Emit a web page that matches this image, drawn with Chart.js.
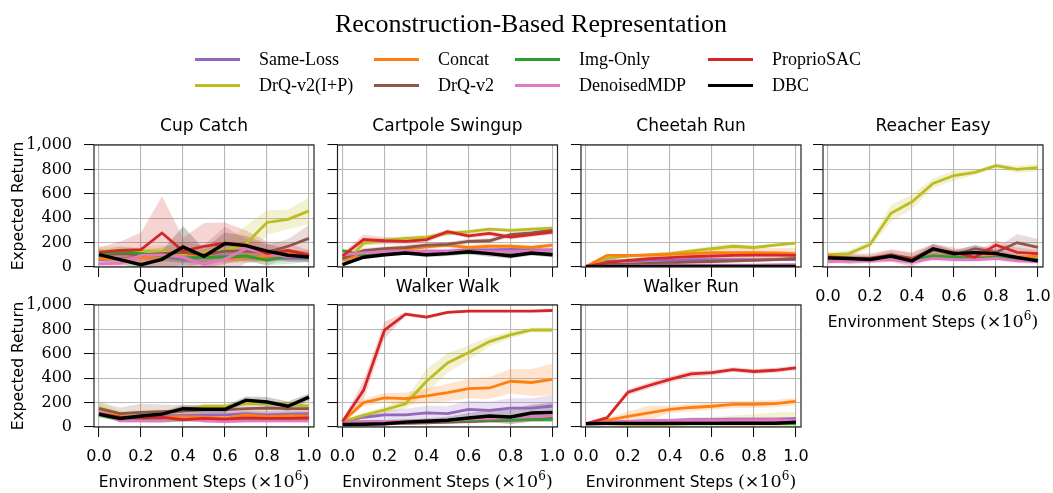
<!DOCTYPE html>
<html>
<head>
<meta charset="utf-8">
<script src="https://cdn.jsdelivr.net/npm/chart.js@4/dist/chart.umd.min.js"></script>
<style>
  html, body { margin: 0; padding: 0; background: #fff; }
  #wrap { position: relative; width: 1053px; height: 493px; overflow: hidden; background: #fff; }
  #wrap canvas { position: absolute; left: 0; top: 0; }
  .txt { position: absolute; white-space: nowrap; line-height: 1; color: #000; }
  .c { transform: translate(-50%, -50%); }
  .l { transform: translate(0, -50%); }
  .serif { font-family: "Liberation Serif", "Times New Roman", serif; }
  .sans { font-family: "DejaVu Sans", sans-serif; }
  .math { font-family: "DejaVu Serif", serif; font-size: 17.5px; }
  .math sup { font-size: 12px; vertical-align: 7px; line-height: 0; }
  .legline { position: absolute; width: 45px; height: 3px; }
</style>
</head>
<body>
<div id="wrap"></div>
<script>
// ---------------- data ----------------
const steps = [0, 0.1, 0.2, 0.3, 0.4, 0.5, 0.6, 0.7, 0.8, 0.9, 1.0];
const xTickValues = [0, 0.2, 0.4, 0.6, 0.8, 1.0];
const yTickValues = [0, 200, 400, 600, 800, 1000];
const seriesNames = ['Same-Loss', 'Concat', 'Img-Only', 'ProprioSAC', 'DrQ-v2(I+P)', 'DrQ-v2', 'DenoisedMDP', 'DBC'];
const seriesColors = ['#9467bd', '#ff7f0e', '#2ca02c', '#d62728', '#bcbd22', '#8c564b', '#e377c2', '#000000'];
const panelTitles = ['Cup Catch', 'Cartpole Swingup', 'Cheetah Run', 'Reacher Easy', 'Quadruped Walk', 'Walker Walk', 'Walker Run'];

// rows follow seriesNames order
const cupCatch = [
  [60, 70, 80, 90, 60, 80, 90, 70, 80, 70, 70],
  [70, 60, 75, 85, 85, 95, 70, 75, 90, 110, 95],
  [100, 130, 110, 90, 75, 80, 80, 90, 55, 85, 80],
  [120, 137, 142, 279, 130, 170, 195, 180, 110, 135, 100],
  [130, 125, 123, 130, 100, 115, 135, 190, 365, 390, 460],
  [100, 110, 100, 110, 120, 100, 130, 130, 120, 170, 235],
  [25, 30, 95, 100, 80, 20, 65, 150, 110, 85, 90],
  [101, 60, 19, 63, 164, 88, 192, 175, 130, 96, 82]
];
const cupCatchStd = [
  [30, 30, 30, 40, 30, 30, 40, 30, 30, 30, 30],
  [40, 40, 50, 50, 40, 40, 40, 40, 40, 40, 40],
  [30, 40, 40, 40, 40, 40, 40, 40, 40, 60, 40],
  [40, 70, 140, 300, 110, 190, 170, 120, 100, 60, 40],
  [40, 40, 40, 50, 50, 40, 60, 150, 100, 80, 110],
  [40, 40, 40, 50, 80, 80, 200, 100, 60, 60, 110],
  [30, 30, 40, 40, 40, 30, 40, 60, 40, 40, 40],
  [50, 40, 30, 70, 170, 60, 90, 80, 60, 50, 40]
];
const cartpole = [
  [60, 100, 110, 125, 130, 130, 140, 140, 145, 140, 140],
  [60, 105, 125, 145, 165, 180, 160, 170, 170, 160, 180],
  [135, 95, 110, 125, 110, 115, 120, 115, 110, 115, 105],
  [90, 225, 215, 210, 225, 290, 255, 275, 245, 265, 285],
  [10, 195, 220, 235, 245, 275, 290, 310, 300, 310, 318],
  [70, 135, 150, 160, 180, 185, 210, 215, 265, 280, 300],
  [100, 115, 125, 130, 125, 125, 130, 125, 125, 130, 135],
  [20, 80, 100, 115, 100, 110, 125, 110, 90, 115, 100]
];
const cartpoleStd = [
  [20, 20, 20, 20, 20, 20, 20, 20, 20, 20, 20],
  [20, 20, 20, 20, 20, 20, 20, 20, 20, 20, 20],
  [15, 20, 20, 20, 20, 20, 20, 20, 20, 20, 20],
  [30, 40, 30, 25, 25, 20, 20, 20, 20, 20, 20],
  [10, 30, 20, 20, 20, 20, 15, 15, 15, 15, 15],
  [20, 20, 20, 20, 20, 20, 20, 20, 20, 20, 20],
  [15, 15, 15, 15, 15, 15, 15, 15, 15, 15, 15],
  [10, 15, 15, 15, 20, 20, 20, 25, 20, 20, 20]
];
const cheetah = [
  [5, 50, 50, 55, 55, 60, 60, 60, 60, 60, 60],
  [5, 95, 95, 98, 103, 110, 118, 118, 118, 115, 110],
  [5, 10, 10, 12, 12, 13, 13, 14, 14, 15, 15],
  [5, 35, 55, 68, 77, 85, 90, 95, 97, 97, 95],
  [5, 70, 90, 100, 110, 130, 150, 170, 160, 180, 195],
  [5, 20, 25, 30, 35, 40, 45, 50, 55, 60, 70],
  [5, 10, 12, 14, 15, 15, 15, 15, 16, 18, 20],
  [2, 5, 5, 5, 5, 5, 5, 5, 5, 5, 5]
];
const cheetahStd = [
  [3, 10, 10, 10, 10, 10, 10, 10, 10, 10, 10],
  [3, 10, 10, 15, 25, 35, 45, 40, 40, 40, 45],
  [2, 5, 5, 5, 5, 5, 5, 5, 5, 5, 5],
  [3, 10, 15, 20, 25, 30, 30, 30, 30, 30, 30],
  [3, 10, 10, 10, 10, 15, 25, 20, 15, 15, 15],
  [3, 10, 10, 10, 10, 10, 15, 15, 15, 15, 15],
  [2, 5, 5, 5, 5, 5, 5, 5, 5, 5, 5],
  [2, 3, 3, 3, 3, 3, 3, 3, 3, 3, 3]
];
const reacher = [
  [70, 65, 70, 80, 60, 90, 80, 70, 80, 70, 60],
  [95, 60, 65, 80, 70, 90, 80, 70, 100, 80, 90],
  [80, 70, 70, 80, 60, 90, 80, 70, 80, 70, 60],
  [80, 70, 70, 95, 60, 140, 120, 80, 180, 120, 110],
  [100, 110, 185, 440, 535, 685, 750, 775, 830, 800, 815],
  [70, 65, 65, 100, 70, 145, 100, 150, 120, 200, 160],
  [45, 50, 55, 60, 40, 70, 60, 60, 70, 50, 45],
  [75, 70, 62, 90, 50, 150, 110, 118, 110, 78, 50]
];
const reacherStd = [
  [20, 20, 20, 20, 20, 20, 20, 20, 20, 20, 20],
  [20, 20, 20, 20, 20, 20, 20, 20, 20, 20, 20],
  [20, 20, 20, 20, 20, 20, 20, 20, 20, 20, 20],
  [30, 40, 40, 50, 60, 50, 40, 30, 40, 40, 30],
  [20, 30, 30, 70, 60, 40, 40, 20, 20, 30, 30],
  [30, 40, 30, 40, 40, 40, 30, 30, 30, 70, 70],
  [20, 20, 20, 20, 20, 20, 20, 20, 20, 20, 20],
  [20, 20, 20, 30, 20, 40, 30, 60, 30, 30, 20]
];
const quadruped = [
  [110, 80, 85, 90, 95, 100, 100, 110, 100, 105, 110],
  [120, 85, 80, 80, 85, 80, 70, 100, 85, 90, 90],
  [100, 60, 60, 55, 60, 60, 60, 60, 60, 60, 60],
  [110, 80, 75, 80, 60, 70, 65, 75, 70, 70, 75],
  [160, 110, 118, 123, 135, 170, 170, 192, 192, 186, 170],
  [150, 110, 120, 125, 130, 140, 140, 150, 155, 150, 150],
  [130, 50, 50, 50, 70, 50, 45, 50, 50, 50, 50],
  [105, 70, 90, 105, 150, 145, 145, 220, 205, 170, 245]
];
const quadrupedStd = [
  [30, 30, 30, 30, 30, 30, 30, 30, 30, 30, 30],
  [40, 30, 30, 30, 30, 30, 40, 40, 40, 40, 40],
  [20, 20, 20, 20, 20, 20, 20, 20, 20, 20, 20],
  [20, 20, 20, 20, 20, 20, 20, 20, 20, 20, 20],
  [60, 20, 20, 20, 20, 20, 20, 20, 20, 20, 20],
  [50, 50, 70, 60, 50, 40, 40, 40, 50, 40, 40],
  [20, 15, 15, 15, 15, 15, 15, 15, 15, 15, 15],
  [20, 20, 20, 20, 30, 30, 30, 30, 40, 40, 30]
];
const walkerWalk = [
  [45, 80, 100, 100, 115, 110, 145, 137, 155, 155, 172],
  [45, 200, 238, 233, 255, 282, 315, 320, 375, 365, 390],
  [40, 42, 45, 48, 50, 52, 55, 58, 60, 60, 62],
  [45, 300, 795, 925, 900, 940, 950, 950, 950, 950, 955],
  [45, 95, 140, 190, 375, 525, 610, 700, 755, 795, 795],
  [40, 35, 30, 30, 35, 40, 45, 50, 55, 60, 70],
  [40, 42, 45, 47, 50, 55, 65, 70, 80, 85, 95],
  [20, 22, 27, 40, 47, 55, 74, 90, 82, 115, 120]
];
const walkerWalkStd = [
  [10, 30, 40, 50, 60, 60, 70, 70, 80, 80, 90],
  [10, 30, 40, 50, 60, 70, 80, 90, 100, 110, 130],
  [10, 10, 10, 10, 10, 10, 10, 10, 10, 10, 10],
  [10, 80, 70, 15, 15, 10, 10, 10, 10, 10, 10],
  [10, 20, 30, 40, 100, 80, 60, 40, 30, 20, 20],
  [10, 10, 10, 10, 10, 10, 15, 15, 20, 20, 20],
  [10, 10, 10, 10, 10, 10, 10, 10, 10, 10, 10],
  [10, 10, 15, 20, 25, 30, 40, 50, 60, 70, 80]
];
const walkerRun = [
  [27, 40, 45, 50, 55, 60, 60, 65, 65, 65, 68],
  [27, 55, 88, 115, 145, 160, 170, 185, 185, 192, 210],
  [27, 28, 28, 28, 28, 28, 28, 28, 28, 28, 28],
  [27, 75, 285, 340, 390, 435, 445, 470, 455, 465, 485],
  [27, 25, 20, 20, 20, 25, 25, 25, 25, 25, 25],
  [27, 30, 32, 35, 35, 38, 38, 40, 40, 42, 45],
  [27, 35, 45, 50, 55, 55, 55, 58, 58, 60, 55],
  [27, 30, 30, 30, 30, 30, 30, 30, 30, 30, 40]
];
const walkerRunStd = [
  [5, 10, 15, 15, 15, 15, 15, 15, 15, 15, 15],
  [5, 15, 40, 60, 30, 30, 30, 30, 30, 30, 30],
  [5, 5, 5, 5, 5, 5, 5, 5, 5, 5, 5],
  [5, 20, 25, 25, 25, 25, 20, 20, 20, 20, 20],
  [5, 10, 20, 30, 40, 50, 60, 70, 80, 95, 95],
  [5, 10, 10, 10, 10, 10, 10, 10, 10, 10, 10],
  [5, 10, 10, 10, 10, 10, 10, 10, 10, 10, 10],
  [5, 5, 5, 5, 5, 5, 5, 5, 5, 5, 5]
];

// ---------------- layout ----------------
const W = 1053, H = 493;
const colLeft = [94, 337.5, 581, 823];
const rowTop = [145, 305];
const panelW = 220, panelH = 122;
const yAxisW = 80, xAxisH = 40;
const xPad = 5 / 210;
const lineZ = [7, 5, 3, 1, 6, 4, 2, 0]; // lower = drawn on top

const panels = [
  { title: panelTitles[0], mean: cupCatch, std: cupCatchStd, col: 0, row: 0, xl: false, yl: true },
  { title: panelTitles[1], mean: cartpole, std: cartpoleStd, col: 1, row: 0, xl: false, yl: false },
  { title: panelTitles[2], mean: cheetah, std: cheetahStd, col: 2, row: 0, xl: false, yl: false },
  { title: panelTitles[3], mean: reacher, std: reacherStd, col: 3, row: 0, xl: true, yl: false },
  { title: panelTitles[4], mean: quadruped, std: quadrupedStd, col: 0, row: 1, xl: true, yl: true },
  { title: panelTitles[5], mean: walkerWalk, std: walkerWalkStd, col: 1, row: 1, xl: true, yl: false },
  { title: panelTitles[6], mean: walkerRun, std: walkerRunStd, col: 2, row: 1, xl: true, yl: false }
];

const wrap = document.getElementById('wrap');

function rgba(hex, a) {
  const n = parseInt(hex.slice(1), 16);
  return `rgba(${(n >> 16) & 255},${(n >> 8) & 255},${n & 255},${a})`;
}

const framePlugin = {
  id: 'frame',
  afterDatasetsDraw(chart) {
    const a = chart.chartArea, c = chart.ctx;
    c.save();
    c.strokeStyle = '#222';
    c.lineWidth = 1.2;
    c.strokeRect(a.left, a.top, a.right - a.left, a.bottom - a.top);
    c.restore();
  }
};

function addText(html, x, y, cls, style) {
  const d = document.createElement('div');
  d.className = 'txt ' + cls;
  d.innerHTML = html;
  d.style.left = x + 'px';
  d.style.top = y + 'px';
  if (style) Object.assign(d.style, style);
  wrap.appendChild(d);
  return d;
}

panels.forEach(p => {
  const L = colLeft[p.col], T = rowTop[p.row];
  const cv = document.createElement('canvas');
  cv.width = W; cv.height = H;
  cv.style.width = W + 'px'; cv.style.height = H + 'px';
  wrap.appendChild(cv);

  const datasets = [];
  // bands
  seriesNames.forEach((name, k) => {
    const m = p.mean[k], s = p.std[k];
    datasets.push({
      data: steps.map((x, i) => ({ x, y: m[i] + s[i] })),
      borderWidth: 0, borderColor: 'rgba(0,0,0,0)', pointRadius: 0,
      backgroundColor: rgba(seriesColors[k], 0.2), fill: '+1', tension: 0, order: 100
    });
    datasets.push({
      data: steps.map((x, i) => ({ x, y: m[i] - s[i] })),
      borderWidth: 0, borderColor: 'rgba(0,0,0,0)', pointRadius: 0,
      fill: false, tension: 0, order: 100
    });
  });
  // mean lines
  seriesNames.forEach((name, k) => {
    const m = p.mean[k];
    datasets.push({
      label: name,
      data: steps.map((x, i) => ({ x, y: m[i] })),
      borderColor: seriesColors[k],
      borderWidth: k === 7 ? 3.4 : 2.8,
      pointRadius: 0, fill: false, tension: 0,
      order: lineZ[k]
    });
  });

  new Chart(cv, {
    type: 'line',
    data: { datasets },
    options: {
      responsive: false,
      animation: false,
      events: [],
      devicePixelRatio: 1,
      layout: { padding: { left: L - yAxisW, top: T, right: W - (L + panelW), bottom: H - (T + panelH) - xAxisH } },
      plugins: {
        legend: { display: false },
        tooltip: { enabled: false },
        title: { display: false },
        filler: { drawTime: 'beforeDatasetsDraw' }
      },
      scales: {
        x: {
          type: 'linear',
          min: -xPad, max: 1 + xPad,
          afterBuildTicks: s => { s.ticks = xTickValues.map(v => ({ value: v })); },
          afterFit: s => { s.height = xAxisH; s.paddingLeft = 0; s.paddingRight = 0; },
          grid: { color: '#b8b8b8', lineWidth: 1.1, tickLength: 10, tickColor: '#000', tickWidth: 1, drawTicks: true },
          border: { display: false },
          ticks: {
            display: p.xl, padding: 10, color: '#000', maxRotation: 0, autoSkip: false,
            font: { family: 'DejaVu Sans', size: 16 },
            callback: v => Number(v).toFixed(1)
          }
        },
        y: {
          type: 'linear',
          min: 0, max: 1000,
          afterBuildTicks: s => { s.ticks = yTickValues.map(v => ({ value: v })); },
          afterFit: s => { s.width = yAxisW; s.paddingTop = 0; s.paddingBottom = 0; },
          grid: { color: '#b8b8b8', lineWidth: 1.1, tickLength: 10, tickColor: '#000', tickWidth: 1, drawTicks: true },
          border: { display: false },
          ticks: {
            display: p.yl, padding: 12, color: '#000',
            font: { family: 'DejaVu Serif', size: 16 },
            callback: v => Number(v).toLocaleString('en-US')
          }
        }
      }
    },
    plugins: [framePlugin]
  });

  // panel title
  addText(p.title, L + panelW / 2, p.row === 0 ? 125 : 286, 'sans c', { fontSize: '17px' });
  // x axis title
  if (p.xl) {
    addText('Environment Steps <span class="math">(×10<sup>6</sup>)</span>',
      L + panelW / 2, p.row === 0 ? 322 : 482, 'sans c', { fontSize: '15.5px' });
  }
  // y axis title
  if (p.yl) {
    addText('Expected Return', 18.5, T + panelH / 2, 'sans c',
      { fontSize: '15.5px', transform: 'translate(-50%,-50%) rotate(-90deg)' });
  }
});

// ---------------- title & legend ----------------
addText('Reconstruction-Based Representation', 531, 23.5, 'serif c', { fontSize: '26px' });

const legLineX = [195, 374, 515, 708];
const legTextX = [259, 438, 579, 772];
const legRowY = [59, 85];
const legendLayout = [[0, 1, 2, 3], [4, 5, 6, 7]];
legendLayout.forEach((row, r) => {
  row.forEach((k, c) => {
    const ln = document.createElement('div');
    ln.className = 'legline';
    ln.style.left = legLineX[c] + 'px';
    ln.style.top = (legRowY[r] - 1.5) + 'px';
    ln.style.background = seriesColors[k];
    wrap.appendChild(ln);
    addText(seriesNames[k], legTextX[c], legRowY[r], 'serif l', { fontSize: '18px' });
  });
});
</script>
</body>
</html>
